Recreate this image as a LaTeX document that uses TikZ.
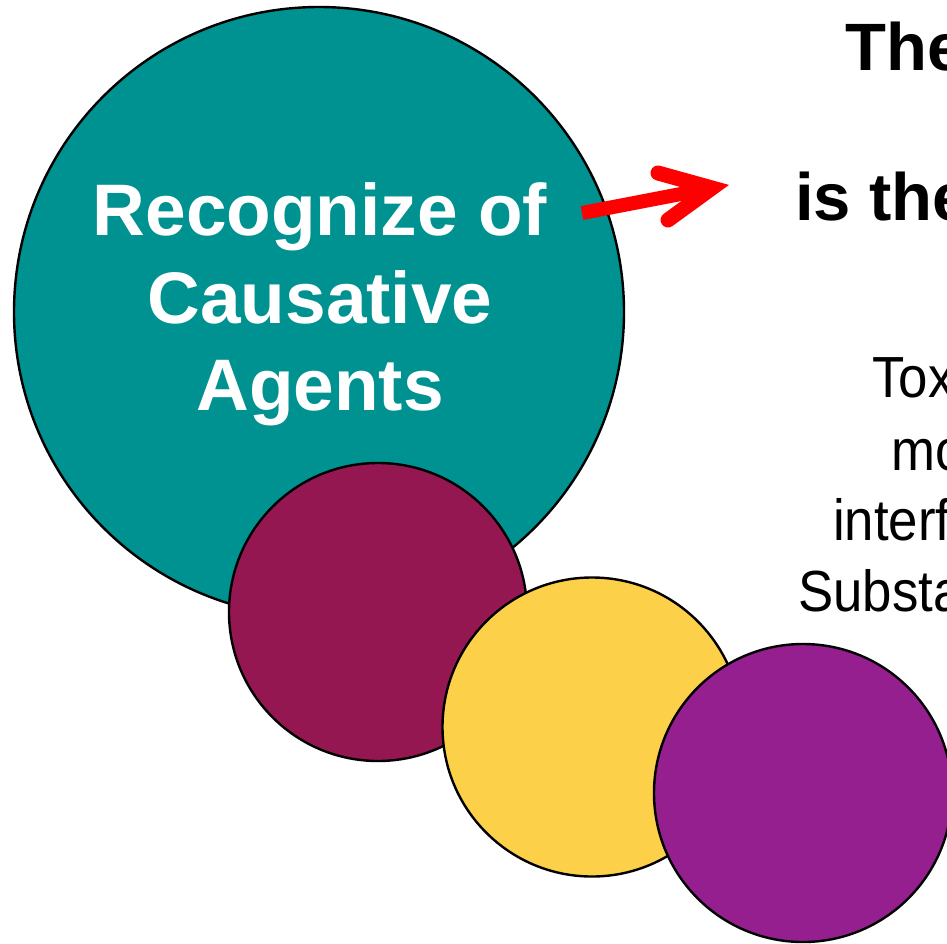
\documentclass[tikz,border=0pt]{standalone}
\usepackage{fontspec}
\setmainfont{Liberation Sans}
\newfontfamily\narrowsans[FakeStretch=0.91]{Liberation Sans}
\definecolor{tealc}{RGB}{0,145,145}
\definecolor{maroonc}{RGB}{149,23,81}
\definecolor{yellowc}{RGB}{253,208,74}
\definecolor{purplec}{RGB}{150,31,144}
\tikzset{
  bubble/.style={circle, draw=black, line width=2.4pt, inner sep=0pt, minimum size=#1},
  whitetext/.style={text=white, font=\fontsize{73}{88}\selectfont\bfseries, inner sep=0pt, anchor=base},
  boldline/.style={font=\fontsize{67}{80}\selectfont\bfseries, inner sep=0pt, anchor=base west},
  plainline/.style={font=\narrowsans\fontsize{58}{70}\selectfont, inner sep=0pt, anchor=base west},
  redarrow/.style={draw=red, line width=14pt}
}
\begin{document}
\begin{tikzpicture}[x=1pt,y=-1pt]
\useasboundingbox (0,0) rectangle (947,943);
\begin{scope}
\clip (0,0) rectangle (947,943);
\node[bubble=610pt, fill=tealc] (teal) at (319,312) {};
\node[bubble=298pt, fill=maroonc] (maroon) at (378,612) {};
\node[bubble=299pt, fill=yellowc] (yellow) at (592,727) {};
\node[bubble=298pt, fill=purplec] (purple) at (803,793) {};
\node[whitetext] (t1) at (320,235) {Recognize of};
\node[whitetext] (t2) at (320,323) {Causative};
\node[whitetext] (t3) at (320,410) {Agents};
\node[boldline] (b1) at (845,70) {The};
\node[boldline] (b2) at (795,220) {is the};
\node[plainline] (p1) at (872,397) {Toxic};
\node[plainline] (p2) at (891,470) {more};
\node[plainline] (p3) at (833,540) {interfere};
\node[plainline] (p4) at (798,611) {Substances};
\coordinate (atail) at (582,213);
\coordinate (atip) at (712,188);
\coordinate (aup) at (658,173);
\coordinate (alow) at (668,220);
\draw[redarrow] (atail) -- (atip);
\draw[redarrow, line width=15pt, line cap=round, line join=miter] (aup) -- (atip) -- (alow);
\end{scope}
\end{tikzpicture}
\end{document}
